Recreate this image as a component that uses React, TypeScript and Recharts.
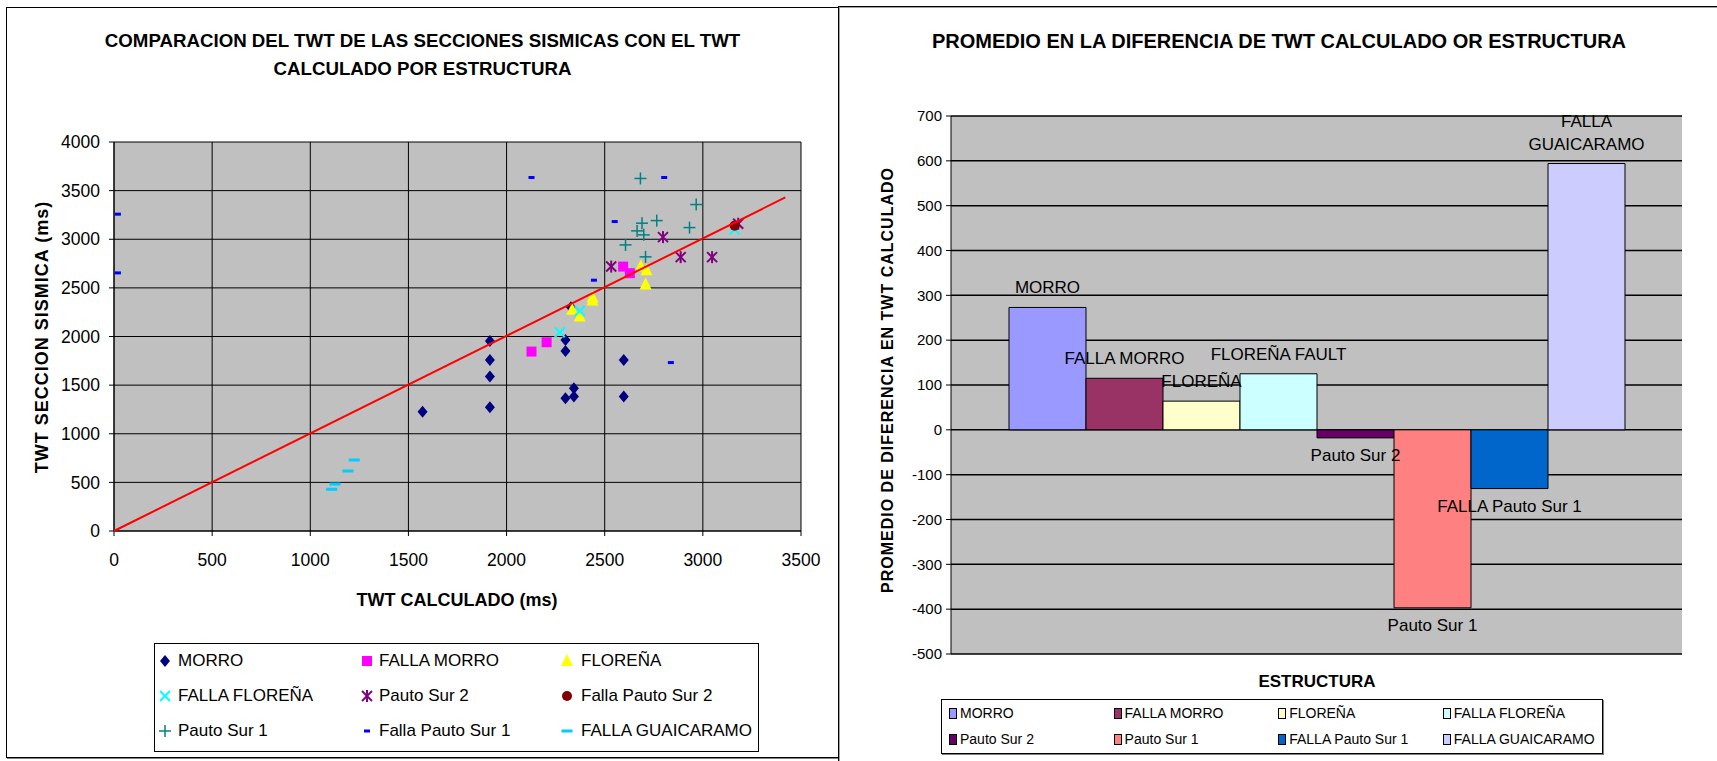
import React from "react";
import {
  ScatterChart,
  Scatter,
  BarChart,
  Bar,
  LabelList,
  XAxis,
  YAxis,
  CartesianGrid,
} from "recharts";

const FONT = '"Liberation Sans", Arial, sans-serif';

// ---- left chart: TWT calculado (x) vs TWT seccion sismica (y)
const morroPts = [
  [1572, 1227], [1915, 1955], [1915, 1759], [1915, 1588], [1915, 1272],
  [2300, 1965], [2300, 1852], [2343, 1468], [2343, 1382], [2300, 1365],
  [2597, 1759], [2597, 1382], [2328, 2300],
];
const fallaMorroPts = [[2127, 1845], [2204, 1941], [2594, 2719], [2628, 2651]];
const florenaPts = [
  [2684, 2720], [2713, 2680], [2708, 2535], [2438, 2400], [2438, 2370],
  [2334, 2275], [2373, 2205],
];
const fallaFlorenaPts = [[2373, 2263], [2271, 2044], [3162, 3100]];
const pautoSur2Pts = [[2533, 2719], [2797, 3022], [2887, 2816], [3047, 2816], [3180, 3160]];
const fallaPautoSur2Pts = [[3162, 3140]];
const pautoSur1Pts = [
  [2682, 3625], [2966, 3357], [2765, 3192], [2690, 3165], [2665, 3086],
  [2699, 3045], [2932, 3120], [2606, 2942], [2708, 2819],
];
const fallaPautoSur1Pts = [
  [20, 3258], [20, 2654], [2127, 3635], [2803, 3635], [2551, 3182],
  [2445, 2579], [2837, 1732],
];
const fallaGuaicaramoPts = [[1109, 429], [1126, 483], [1192, 617], [1224, 730]];
const refLinePts = [[0, 0], [3420, 3430]];

const xTicks = [0, 500, 1000, 1500, 2000, 2500, 3000, 3500];
const yTicks = [0, 500, 1000, 1500, 2000, 2500, 3000, 3500, 4000];

// ---- right chart: promedio de diferencia por estructura
const structures = [
  "MORRO", "FALLA MORRO", "FLOREÑA", "FALLA FLOREÑA",
  "Pauto Sur 2", "Pauto Sur 1", "FALLA Pauto Sur 1", "FALLA GUAICARAMO",
];
const avgDiff = [273, 115, 64, 125, -18, -397, -131, 594];
const barLabels = [
  "MORRO", "FALLA MORRO", "FLOREÑA", "FLOREÑA FAULT",
  "Pauto Sur 2", "Pauto Sur 1", "FALLA Pauto Sur 1", "FALLA\nGUAICARAMO",
];
const barColors = [
  "#9999FF", "#993366", "#FFFFCC", "#CCFFFF",
  "#660066", "#FF8080", "#0066CC", "#CCCCFF",
];
const diffTicks = [-500, -400, -300, -200, -100, 0, 100, 200, 300, 400, 500, 600, 700];

const toXY = (pts: number[][]) => pts.map(([x, y]) => ({ x, y }));

// ---- marker shapes
const diamond = ({ cx, cy }: any) => (
  <path d={`M${cx},${cy - 6}L${cx + 5},${cy}L${cx},${cy + 6}L${cx - 5},${cy}Z`} fill="#000080" />
);
const square = ({ cx, cy }: any) => (
  <rect x={cx - 5} y={cy - 5} width={10} height={10} fill="#FF00FF" />
);
const triangle = ({ cx, cy }: any) => (
  <path d={`M${cx},${cy - 7}L${cx + 6},${cy + 5}L${cx - 6},${cy + 5}Z`} fill="#FFFF00" />
);
const xMark = ({ cx, cy }: any) => (
  <g stroke="#00FFFF" strokeWidth={2}>
    <line x1={cx - 5} y1={cy - 5} x2={cx + 5} y2={cy + 5} />
    <line x1={cx - 5} y1={cy + 5} x2={cx + 5} y2={cy - 5} />
  </g>
);
const star = ({ cx, cy }: any) => (
  <g stroke="#800080" strokeWidth={2}>
    <line x1={cx - 5} y1={cy - 5} x2={cx + 5} y2={cy + 5} />
    <line x1={cx - 5} y1={cy + 5} x2={cx + 5} y2={cy - 5} />
    <line x1={cx} y1={cy - 6} x2={cx} y2={cy + 6} />
  </g>
);
const dot = ({ cx, cy }: any) => <circle cx={cx} cy={cy} r={5} fill="#800000" />;
const plus = ({ cx, cy }: any) => (
  <g stroke="#008080" strokeWidth={1.5}>
    <line x1={cx - 6} y1={cy} x2={cx + 6} y2={cy} />
    <line x1={cx} y1={cy - 6} x2={cx} y2={cy + 6} />
  </g>
);
const shortDash = ({ cx, cy }: any) => (
  <rect x={cx - 3} y={cy - 1.5} width={6} height={3} fill="#0000FF" />
);
const longDash = ({ cx, cy }: any) => (
  <rect x={cx - 5.5} y={cy - 1.5} width={11} height={3} fill="#00CCFF" />
);
const noMark = () => <g />;

const scatterSeries = [
  { name: "MORRO", pts: morroPts, shape: diamond },
  { name: "FALLA MORRO", pts: fallaMorroPts, shape: square },
  { name: "FLOREÑA", pts: florenaPts, shape: triangle },
  { name: "FALLA FLOREÑA", pts: fallaFlorenaPts, shape: xMark },
  { name: "Pauto Sur 2", pts: pautoSur2Pts, shape: star },
  { name: "Falla Pauto Sur 2", pts: fallaPautoSur2Pts, shape: dot },
  { name: "Pauto Sur 1", pts: pautoSur1Pts, shape: plus },
  { name: "Falla Pauto Sur 1", pts: fallaPautoSur1Pts, shape: shortDash },
  { name: "FALLA GUAICARAMO", pts: fallaGuaicaramoPts, shape: longDash },
];

const barRow: Record<string, any> = { name: "ESTRUCTURA" };
avgDiff.forEach((v, i) => (barRow[`s${i}`] = v));
const barData = [barRow];

const barLabel = (i: number) => (props: any) => {
  const x = Number(props.x);
  const y = Number(props.y);
  const w = Number(props.width);
  const h = Number(props.height);
  const cx = x + w / 2;
  const top = Math.min(y, y + h);
  const bottom = Math.max(y, y + h);
  const lines = barLabels[i].split("\n");
  const lh = 23;
  const first = avgDiff[i] >= 0 ? top - 14 - (lines.length - 1) * lh : bottom + 23;
  return (
    <text textAnchor="middle" fontSize={17} fontFamily={FONT} fill="#000">
      {lines.map((l, k) => (
        <tspan key={k} x={cx} y={first + k * lh}>
          {l}
        </tspan>
      ))}
    </text>
  );
};

const abs = (s: React.CSSProperties): React.CSSProperties => ({ position: "absolute", ...s });

export default function App() {
  return (
    <div
      style={{
        position: "absolute",
        left: 0,
        top: 0,
        width: 1717,
        height: 761,
        overflow: "hidden",
        background: "#fff",
        fontFamily: FONT,
        color: "#000",
      }}
    >
      {/* panel frames */}
      <div style={abs({ left: 6, top: 7, width: 831, height: 749, border: "1px solid #000", boxShadow: "1px 1px 0 #808080" })} />
      <div style={abs({ left: 838, top: 6, width: 900, height: 800, borderTop: "1px solid #000", borderLeft: "1px solid #000", boxShadow: "inset 1px 1px 0 #a0a0a0" })} />

      {/* left chart */}
      <div style={abs({ left: 6, top: 27, width: 833, textAlign: "center", fontWeight: "bold", fontSize: 18.7, lineHeight: "28px" })}>
        COMPARACION DEL TWT DE LAS SECCIONES SISMICAS CON EL TWT
        <br />
        CALCULADO POR ESTRUCTURA
      </div>
      <div style={abs({ left: 0, top: 0 })}>
        <ScatterChart width={839} height={761} margin={{ top: 142, right: 38, bottom: 200, left: 54 }}>
          <CartesianGrid stroke="#000" strokeWidth={1} fill="#C0C0C0" fillOpacity={1} />
          <XAxis
            type="number"
            dataKey="x"
            domain={[0, 3500]}
            ticks={xTicks}
            interval={0}
            height={30}
            stroke="#000"
            tickSize={5}
            tickMargin={18}
            tick={{ fill: "#000", fontSize: 17.5, fontFamily: FONT }}
          />
          <YAxis
            type="number"
            dataKey="y"
            domain={[0, 4000]}
            ticks={yTicks}
            interval={0}
            width={60}
            stroke="#000"
            tickSize={5}
            tickMargin={9}
            tick={{ fill: "#000", fontSize: 17.5, fontFamily: FONT }}
          />
          {scatterSeries.map((s) => (
            <Scatter key={s.name} name={s.name} data={toXY(s.pts)} shape={s.shape} isAnimationActive={false} />
          ))}
          <Scatter
            name="ref"
            data={toXY(refLinePts)}
            line={{ stroke: "#FF0000", strokeWidth: 2 }}
            shape={noMark}
            legendType="none"
            isAnimationActive={false}
          />
        </ScatterChart>
      </div>
      <div style={abs({ left: 42, top: 337, width: 0, height: 0 })}>
        <div style={abs({ left: -200, top: -11, width: 400, textAlign: "center", fontWeight: "bold", fontSize: 18, letterSpacing: 1, lineHeight: "22px", transform: "rotate(-90deg)" })}>
          TWT SECCION SISMICA (ms)
        </div>
      </div>
      <div style={abs({ left: 257, top: 589, width: 400, textAlign: "center", fontWeight: "bold", fontSize: 18, lineHeight: "22px" })}>
        TWT CALCULADO (ms)
      </div>
      <div style={abs({ left: 154, top: 643, width: 603, height: 107, border: "1px solid #000" })}>
        {scatterSeries.map((s, i) => {
          const col = i % 3;
          const row = Math.floor(i / 3);
          const mx = [10, 212, 412][col];
          const tx = [23, 224, 426][col];
          const cy = [17, 52, 87][row];
          return (
            <React.Fragment key={s.name}>
              <svg width={16} height={16} style={abs({ left: mx - 8, top: cy - 8 })}>
                {s.shape({ cx: 8, cy: 8 })}
              </svg>
              <div style={abs({ left: tx, top: cy - 11, fontSize: 17, lineHeight: "22px", whiteSpace: "nowrap" })}>{s.name}</div>
            </React.Fragment>
          );
        })}
      </div>

      {/* right chart */}
      <div style={abs({ left: 839, top: 28, width: 880, textAlign: "center", fontWeight: "bold", fontSize: 20, lineHeight: "26px" })}>
        PROMEDIO EN LA DIFERENCIA DE TWT CALCULADO OR ESTRUCTURA
      </div>
      <div style={abs({ left: 839, top: 0 })}>
        <BarChart
          width={878}
          height={761}
          data={barData}
          margin={{ top: 116, right: 35, bottom: 107, left: 52 }}
          barGap={0}
          barCategoryGap={58}
        >
          <CartesianGrid stroke="#000" strokeWidth={1.5} vertical={false} fill="#C0C0C0" fillOpacity={1} />
          <XAxis type="category" dataKey="name" hide />
          <YAxis
            type="number"
            domain={[-500, 700]}
            ticks={diffTicks}
            interval={0}
            width={60}
            stroke="#000"
            tickSize={5}
            tickMargin={4}
            tick={{ fill: "#000", fontSize: 15, fontFamily: FONT }}
          />
          {structures.map((name, i) => (
            <Bar
              key={name}
              name={name}
              dataKey={`s${i}`}
              fill={barColors[i]}
              stroke="#000"
              strokeWidth={1}
              isAnimationActive={false}
            >
              <LabelList dataKey={`s${i}`} content={barLabel(i)} />
            </Bar>
          ))}
        </BarChart>
      </div>
      <div style={abs({ left: 888, top: 380, width: 0, height: 0 })}>
        <div style={abs({ left: -300, top: -11, width: 600, textAlign: "center", fontWeight: "bold", fontSize: 16, letterSpacing: 1, lineHeight: "22px", transform: "rotate(-90deg)" })}>
          PROMEDIO DE DIFERENCIA EN TWT CALCULADO
        </div>
      </div>
      <div style={abs({ left: 1117, top: 671, width: 400, textAlign: "center", fontWeight: "bold", fontSize: 17, lineHeight: "22px" })}>
        ESTRUCTURA
      </div>
      <div style={abs({ left: 941, top: 699, width: 660, height: 53, border: "1px solid #000", boxShadow: "1px 1px 0 #808080" })}>
        {structures.map((name, i) => {
          const col = i % 4;
          const row = Math.floor(i / 4);
          const left = 7 + col * 164.6;
          const cy = [12.5, 38.5][row];
          return (
            <React.Fragment key={name}>
              <div style={abs({ left, top: cy - 5, width: 6, height: 9, background: barColors[i], border: "1px solid #000" })} />
              <div style={abs({ left: left + 11, top: cy - 9, fontSize: 14, lineHeight: "18px", whiteSpace: "nowrap" })}>{name}</div>
            </React.Fragment>
          );
        })}
      </div>
    </div>
  );
}
